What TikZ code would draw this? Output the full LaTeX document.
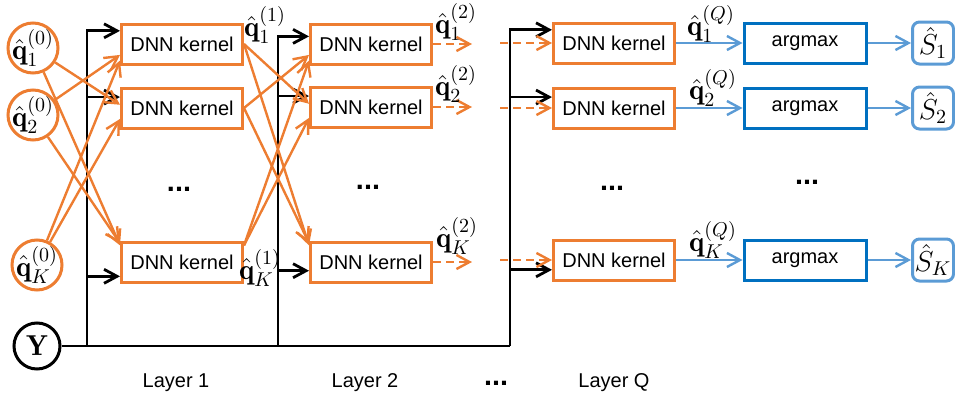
\documentclass[tikz,border=0pt]{standalone}
\usepackage{fontspec}
\newfontfamily\arialf{Liberation Sans}
\usetikzlibrary{arrows.meta}
\definecolor{orng}{HTML}{ED7D31}
\definecolor{dblue}{HTML}{0070C0}
\definecolor{lblue}{HTML}{5B9BD5}
\begin{document}
\begin{tikzpicture}[x=0.5pt,y=-0.5pt,
	>={Straight Barb[length=6.5pt,width=7pt]},
	kernel/.style={draw=orng,line width=1.5pt,minimum width=60.5pt,minimum height=20pt,inner sep=0pt,font=\arialf},
	amax/.style={draw=dblue,line width=1.5pt,minimum width=61pt,minimum height=20pt,inner sep=0pt,font=\arialf},
	est/.style={draw=lblue,line width=1.5pt,rounded corners=3.5pt,minimum width=20.5pt,minimum height=21pt,inner sep=0pt,font=\Large},
	qin/.style={circle,draw=orng,fill=white,line width=1.5pt,minimum size=25pt,inner sep=0pt},
	obs/.style={circle,draw,line width=1.5pt,minimum size=23pt,inner sep=0pt,font=\Large},
	oarr/.style={->,orng,line width=1.2pt},
	odash/.style={->,orng,line width=1.2pt,dash pattern=on 4pt off 2.5pt},
	barr/.style={->,lblue,line width=1.2pt},
	blk/.style={line width=1.4pt},
	lbl/.style={font=\Large},
	ellip/.style={font=\arialf\bfseries\Large},
	lay/.style={font=\arialf}]
	\useasboundingbox (0,0) rectangle (955,396);
	% inputs
	\node[qin,label={[lbl]center:$\hat{\mathbf{q}}_1^{(0)}$}] (q1) at (33,48) {};
	\node[qin,label={[lbl]center:$\hat{\mathbf{q}}_2^{(0)}$}] (q2) at (33,115) {};
	\node[qin,label={[lbl]center:$\hat{\mathbf{q}}_K^{(0)}$}] (qK) at (37,265) {};
	\node[obs] (Y) at (37,346) {$\mathbf{Y}$};
	% layers
	\node[kernel] (k11) at (182,44) {DNN kernel};
	\node[kernel] (k12) at (182,108) {DNN kernel};
	\node[kernel] (k1K) at (182,262) {DNN kernel};
	\node[kernel] (k21) at (371,44) {DNN kernel};
	\node[kernel] (k22) at (371,107) {DNN kernel};
	\node[kernel] (k2K) at (371,262) {DNN kernel};
	\node[kernel] (kQ1) at (614,43) {DNN kernel};
	\node[kernel] (kQ2) at (614,108) {DNN kernel};
	\node[kernel] (kQK) at (614,260) {DNN kernel};
	\node[amax] (a1) at (805,43) {argmax};
	\node[amax] (a2) at (805,108) {argmax};
	\node[amax] (aK) at (805,260) {argmax};
	\node[est] (s1) at (933,43) {$\hat{S}_1$};
	\node[est] (s2) at (933,108) {$\hat{S}_2$};
	\node[est] (sK) at (933,260) {$\hat{S}_K$};
	% Y lines
	\coordinate (y1) at (87,346);
	\coordinate (y2) at (278,346);
	\coordinate (yQ) at (510,346);
	\draw[blk] (Y) -- (yQ);
	\draw[blk,->] (y1) |- (k11.168);
	\draw[blk,->] (y1 |- k12.170) -- (k12.170);
	\draw[blk,->] (y1 |- k1K.193) -- (k1K.193);
	\draw[blk,->] (y2) |- (k21.173);
	\draw[blk,->] (y2 |- k22.170) -- (k22.170);
	\draw[blk,->] (y2 |- k2K.188) -- (k2K.188);
	\draw[blk,->] (yQ) |- (kQ1.168);
	\draw[blk,->] (yQ |- kQ2.170) -- (kQ2.170);
	\draw[blk,->] (yQ |- kQK.189) -- (kQK.189);
	% cross connections
	\draw[oarr] (q1) -- (k12.177);
	\draw[oarr] (q1) -- (k1K.165);
	\draw[oarr] (q2) -- (k11.190);
	\draw[oarr] (q2) -- (k1K.163);
	\draw[oarr] (qK) -- (k11.195);
	\draw[oarr] (qK) -- (k12.190);
	\draw[oarr] (k11.east) -- (k22.177);
	\draw[oarr] (k11.east) -- (k2K.165);
	\draw[oarr] (k12.east) -- (k21.190);
	\draw[oarr] (k12.east) -- (k2K.163);
	\draw[oarr] (k1K.15) -- (k21.195);
	\draw[oarr] (k1K.15) -- (k22.190);
	% dashed
	\coordinate (e1) at (472,44);
	\coordinate (e2) at (472,107);
	\coordinate (eK) at (472,262);
	\coordinate (f1) at (500,43);
	\coordinate (f2) at (500,108);
	\coordinate (fK) at (500,260);
	\draw[odash] (k21) -- (e1);
	\draw[odash] (k22) -- (e2);
	\draw[odash] (k2K) -- (eK);
	\draw[odash] (f1) -- (kQ1);
	\draw[odash] (f2) -- (kQ2);
	\draw[odash] (fK) -- (kQK);
	% outputs
	\draw[barr] (kQ1) -- (a1);
	\draw[barr] (kQ2) -- (a2);
	\draw[barr] (kQK) -- (aK);
	\draw[barr] (a1) -- (s1);
	\draw[barr] (a2) -- (s2);
	\draw[barr] (aK) -- (sK);
	% labels
	\node[lbl] (l11) at (265,25) {$\hat{\mathbf{q}}_1^{(1)}$};
	\node[lbl] (l1K) at (260,268) {$\hat{\mathbf{q}}_K^{(1)}$};
	\node[lbl] (l21) at (456,22) {$\hat{\mathbf{q}}_1^{(2)}$};
	\node[lbl] (l22) at (456,84) {$\hat{\mathbf{q}}_2^{(2)}$};
	\node[lbl] (l2K) at (457,236) {$\hat{\mathbf{q}}_K^{(2)}$};
	\node[lbl] (lQ1) at (711,24) {$\hat{\mathbf{q}}_1^{(Q)}$};
	\node[lbl] (lQ2) at (713,88) {$\hat{\mathbf{q}}_2^{(Q)}$};
	\node[lbl] (lQK) at (713,240) {$\hat{\mathbf{q}}_K^{(Q)}$};
	\node[ellip] (d1) at (179,189) {...};
	\node[ellip] (d2) at (368,187) {...};
	\node[ellip] (dQ) at (612,188) {...};
	\node[ellip] (dA) at (807,182) {...};
	\node[ellip] (dL) at (496,383) {...};
	\node[lay] (n1) at (176,383) {Layer 1};
	\node[lay] (n2) at (365,383) {Layer 2};
	\node[lay] (nQ) at (614,383) {Layer Q};
\end{tikzpicture}
\end{document}
